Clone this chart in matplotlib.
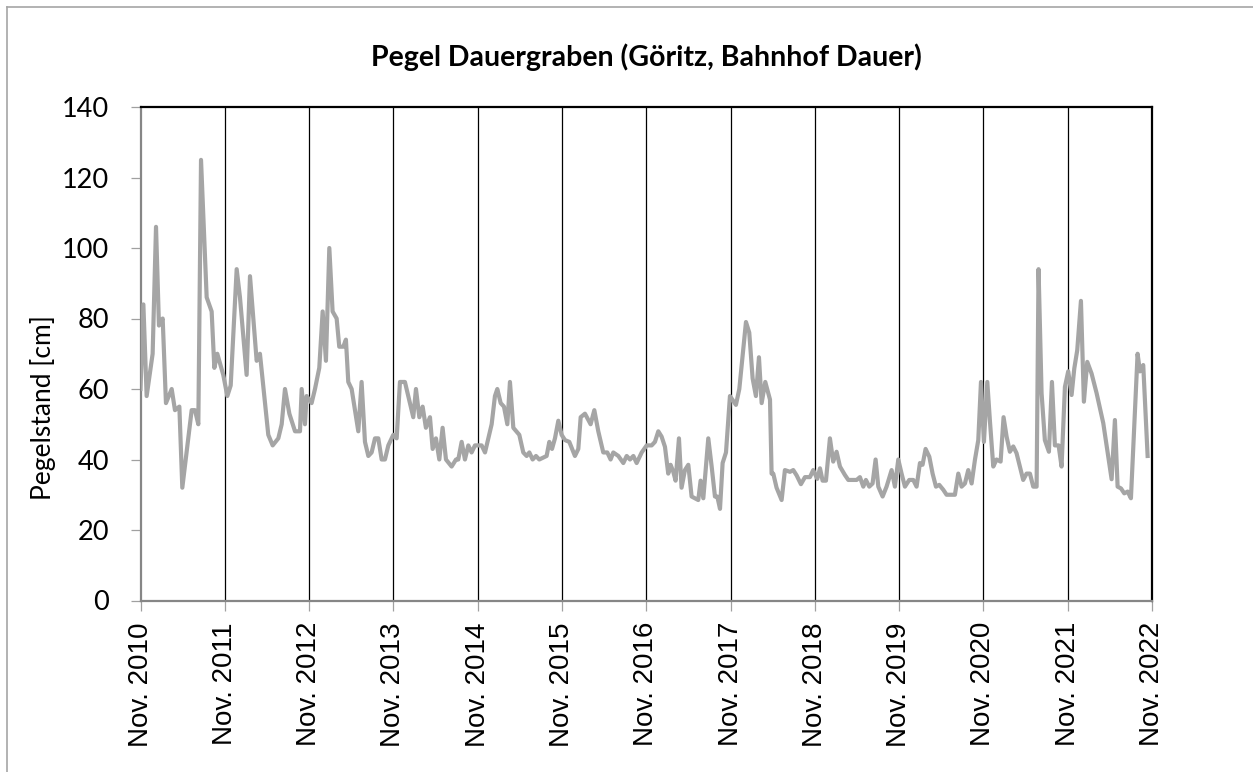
import matplotlib.pyplot as plt
from matplotlib.lines import Line2D

# Pegelstand readings, x = years after Nov. 2010
jahr = [0.000, 0.034, 0.073, 0.144, 0.184, 0.219, 0.263, 0.302, 0.370, 0.409,
        0.461, 0.496, 0.607, 0.646, 0.686, 0.718, 0.785, 0.844, 0.876, 0.911,
        0.982, 1.030, 1.070, 1.141, 1.180, 1.259, 1.299, 1.378, 1.417, 1.516,
        1.568, 1.635, 1.675, 1.714, 1.766, 1.833, 1.892, 1.912, 1.951, 1.971,
        2.030, 2.070, 2.121, 2.161, 2.200, 2.240, 2.279, 2.327, 2.358, 2.406,
        2.437, 2.465, 2.505, 2.584, 2.623, 2.663, 2.703, 2.742, 2.782, 2.821,
        2.861, 2.900, 2.940, 2.999, 3.039, 3.078, 3.137, 3.236, 3.268, 3.308,
        3.347, 3.386, 3.434, 3.466, 3.505, 3.545, 3.584, 3.624, 3.691, 3.743,
        3.770, 3.810, 3.849, 3.889, 3.928, 3.968, 4.007, 4.047, 4.087, 4.166,
        4.205, 4.233, 4.273, 4.312, 4.352, 4.383, 4.423, 4.494, 4.541, 4.581,
        4.613, 4.652, 4.692, 4.731, 4.818, 4.850, 4.882, 4.917, 4.957, 4.996,
        5.036, 5.087, 5.154, 5.194, 5.222, 5.273, 5.340, 5.384, 5.431, 5.490,
        5.538, 5.577, 5.609, 5.669, 5.728, 5.768, 5.807, 5.847, 5.886, 5.946,
        6.005, 6.064, 6.103, 6.143, 6.182, 6.222, 6.261, 6.289, 6.321, 6.348,
        6.388, 6.419, 6.459, 6.499, 6.538, 6.577, 6.617, 6.645, 6.677, 6.736,
        6.776, 6.815, 6.843, 6.875, 6.906, 6.946, 6.993, 7.064, 7.104, 7.183,
        7.222, 7.262, 7.301, 7.337, 7.369, 7.412, 7.468, 7.487, 7.507, 7.546,
        7.606, 7.645, 7.705, 7.744, 7.784, 7.835, 7.883, 7.942, 7.981, 8.029,
        8.061, 8.092, 8.132, 8.179, 8.218, 8.258, 8.298, 8.357, 8.397, 8.436,
        8.496, 8.535, 8.575, 8.606, 8.646, 8.685, 8.721, 8.753, 8.804, 8.851,
        8.911, 8.950, 8.990, 9.029, 9.069, 9.120, 9.168, 9.207, 9.247, 9.278,
        9.314, 9.358, 9.397, 9.437, 9.476, 9.524, 9.563, 9.662, 9.702, 9.741,
        9.781, 9.820, 9.860, 9.900, 9.939, 9.971, 10.006, 10.046, 10.077, 10.117,
        10.156, 10.204, 10.239, 10.275, 10.314, 10.354, 10.393, 10.433, 10.472, 10.512,
        10.552, 10.591, 10.631, 10.654, 10.690, 10.729, 10.777, 10.813, 10.848, 10.892,
        10.927, 10.967, 11.006, 11.046, 11.078, 11.113, 11.157, 11.192, 11.232, 11.283,
        11.343, 11.422, 11.521, 11.560, 11.592, 11.632, 11.671, 11.711, 11.750, 11.829,
        11.857, 11.896, 11.948]
pegel = [60, 84, 58, 70, 106, 78, 80, 56, 60, 54,
         55, 32, 54, 54, 50, 125, 86, 82, 66, 70,
         64, 58, 61, 94, 86, 64, 92, 68, 70, 47,
         44, 46, 50, 60, 53, 48, 48, 60, 50, 58,
         56, 60, 66, 82, 68, 100, 82, 80, 72, 72,
         74, 62, 60, 48, 62, 45, 41, 42, 46, 46,
         40, 40, 44, 47, 46, 62, 62, 52, 60, 52,
         55, 49, 52, 43, 46, 40, 49, 40, 38, 40,
         40, 45, 40, 44, 42, 44, 44, 44, 42, 50,
         58, 60, 56, 55, 50, 62, 49, 47, 42, 41,
         42, 40, 41, 40, 41, 45, 43, 46, 51, 47,
         45.5, 45, 41, 43, 52, 53, 50, 54, 48, 42,
         42, 40, 42, 41, 39, 41, 40, 41, 39, 42,
         44, 44, 45, 48, 46.5, 43.6, 36, 38.5, 36.5, 34,
         46, 32, 37, 38.5, 29.5, 29, 28.5, 34, 29, 46,
         38, 29.5, 29.5, 26, 39, 42, 58, 55.5, 60, 79,
         76, 63, 58, 69, 56, 62, 57, 36, 36, 32,
         28.5, 37, 36.5, 37, 35.5, 33, 35, 35, 37, 34.5,
         37.5, 34, 34, 46, 39.4, 42.2, 38, 35.6, 34.2, 34.2,
         34.2, 35, 32.3, 34.2, 32.3, 33.2, 40, 32.3, 29.5, 32.3,
         37, 32.3, 40, 36, 32.3, 34.2, 34.2, 32.3, 39, 38.5,
         43, 40.8, 36, 32.3, 32.8, 31.4, 30, 30, 36, 32.3,
         33.2, 37, 33.2, 40, 45.5, 62, 45, 62, 51, 38,
         40, 39.4, 52, 46.5, 42.2, 43.7, 41.8, 38, 34.2, 36,
         36, 32.3, 32.3, 94, 58.8, 45.5, 42.2, 62, 44, 44,
         38, 60.6, 65, 58.3, 65.8, 71, 85, 56.4, 67.7, 64.4,
         58.8, 50.3, 34.4, 51.2, 32.3, 31.8, 30.4, 30.9, 29, 70,
         65, 66.8, 41]

jahre = list(range(2010, 2023))
tick_labels = ['Nov. ' + str(j) for j in jahre]

W, H = 1253, 772
fig = plt.figure(figsize=(W / 100, H / 100), dpi=100)
fig.patch.set_facecolor('white')

# outer chart frame (left + top only)
fig.add_artist(Line2D([7 / W, 7 / W], [0, 1 - 7 / H], color='#A6A6A6', lw=1.2))
fig.add_artist(Line2D([7 / W, 1], [1 - 7 / H, 1 - 7 / H], color='#A6A6A6', lw=1.2))

ax = fig.add_axes([140.5 / W, 1 - 600.5 / H, (1152 - 140.5) / W, (600.5 - 107) / H])
ax.plot(jahr, pegel, color='#A5A5A5', linewidth=3.0, solid_joinstyle='round', zorder=3)

ax.set_xlim(0, 12)
ax.set_ylim(0, 140)
ax.set_yticks(range(0, 141, 20))
ax.set_xticks(range(0, 13))
ax.set_xticklabels(tick_labels, rotation=90, fontfamily='Liberation Sans', fontsize=20)
for lab in ax.get_yticklabels():
    lab.set_fontfamily('Lato')
    lab.set_fontsize(19.5)

for x in range(1, 12):
    ax.axvline(x, color='black', linewidth=0.9, zorder=1)

ax.spines['top'].set_color('black')
ax.spines['right'].set_color('black')
ax.spines['top'].set_linewidth(1.6)
ax.spines['right'].set_linewidth(1.6)
ax.spines['left'].set_color('#868686')
ax.spines['bottom'].set_color('#868686')
ax.spines['left'].set_linewidth(1.6)
ax.spines['bottom'].set_linewidth(1.6)
ax.tick_params(axis='both', direction='out', length=7.5, width=0.9, color='#A0A0A0')
ax.tick_params(axis='y', pad=15)
ax.tick_params(axis='x', pad=8)

fig.text(43 / W, 1 - 408 / H, 'Pegelstand [cm]', rotation=90, ha='center', va='center',
         fontfamily='Lato', fontsize=19)
fig.text(646 / W, 1 - 57 / H, 'Pegel Dauergraben (Göritz, Bahnhof Dauer)', ha='center',
         va='center', fontfamily='Lato', fontweight='bold', fontsize=20.5)

plt.savefig('out.png', dpi=100)
